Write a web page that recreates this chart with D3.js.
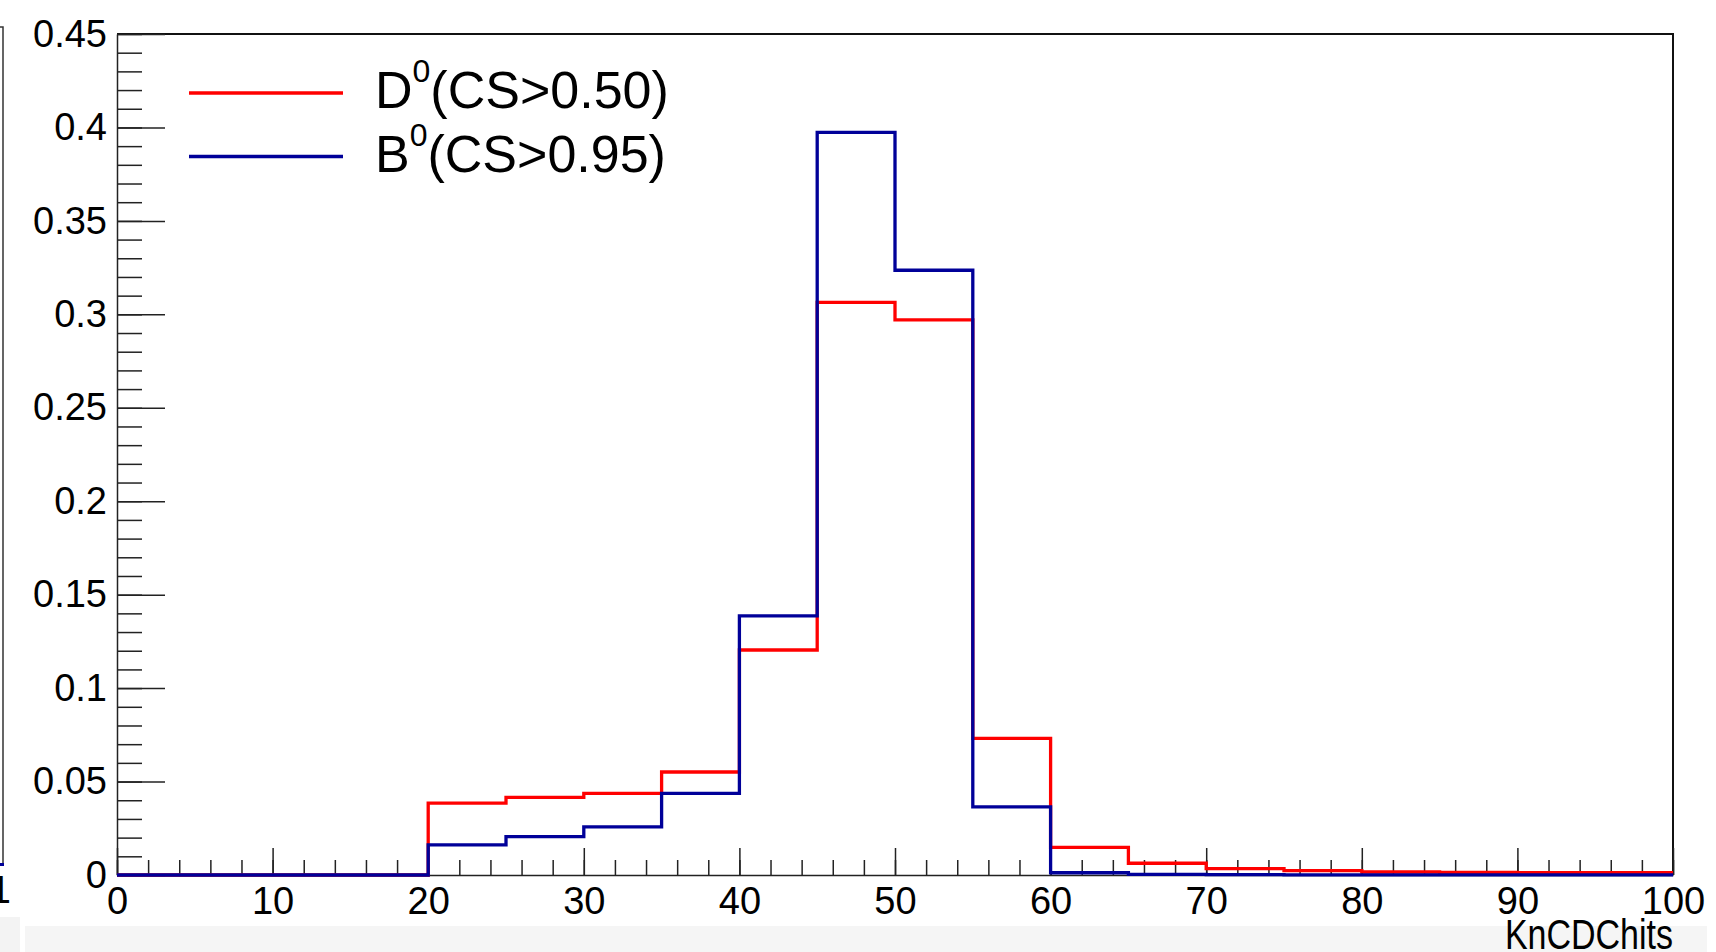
<!DOCTYPE html>
<html>
<head>
<meta charset="utf-8">
<script src="https://cdn.jsdelivr.net/npm/d3@7"></script>
<style>
  body { margin: 0; background: #fff; }
  svg { display: block; font-family: "Liberation Sans", Arial, sans-serif; }
</style>
</head>
<body>
<div id="chart"></div>
<script>
// bin edges of the histograms (5 hit wide bins from 0 to 100)
var binEdges = [0, 5, 10, 15, 20, 25, 30, 35, 40, 45, 50, 55, 60, 65, 70, 75, 80, 85, 90, 95, 100];
// D0 (CS>0.50), normalised
var d0Values = [0, 0, 0, 0, 0.0385, 0.0415, 0.0437, 0.0551, 0.1204, 0.3064, 0.2970, 0.0731,
                0.0148, 0.0063, 0.0034, 0.0023, 0.0016, 0.0014, 0.0013, 0.0012];
// B0 (CS>0.95), normalised
var b0Values = [0, 0, 0, 0, 0.0161, 0.0205, 0.0257, 0.0437, 0.1386, 0.3974, 0.3236, 0.0364,
                0.0012, 0.0003, 0.0002, 0.0001, 0.0001, 0.0001, 0.0001, 0.0001];
var xMajorTicks = [0, 10, 20, 30, 40, 50, 60, 70, 80, 90, 100];
var yMajorTicks = [0, 0.05, 0.1, 0.15, 0.2, 0.25, 0.3, 0.35, 0.4, 0.45];
var yTickLabels = ["0", "0.05", "0.1", "0.15", "0.2", "0.25", "0.3", "0.35", "0.4", "0.45"];
var legendNames = ["D", "B"];
var legendCuts = ["(CS>0.50)", "(CS>0.95)"];
var xTitle = "KnCDChits";

function Histo() {
  var w = 1716;
  var h = 952;
  var left = 117, right = 1673, top = 34, bottom = 875;

  var svg = d3.select("#chart").append("svg")
    .attr("width", w)
    .attr("height", h);

  svg.append("rect").attr("width", w).attr("height", h).attr("fill", "#fff");

  // grey strip at the bottom of the screenshot
  svg.append("rect").attr("x", 0).attr("y", 917).attr("width", 20).attr("height", 35).attr("fill", "#f3f3f3");
  svg.append("rect").attr("x", 25).attr("y", 926).attr("width", 1682).attr("height", 26).attr("fill", "#f5f5f5");

  // edge of the neighbouring pad on the left
  svg.append("path")
    .attr("d", "M0,27H3V865")
    .attr("fill", "none")
    .attr("stroke", "#333")
    .attr("stroke-width", 1.5);
  svg.append("rect").attr("x", 0).attr("y", 863).attr("width", 4).attr("height", 3).attr("fill", "#000099");
  svg.append("text").attr("x", 11).attr("y", 903).attr("text-anchor", "end")
    .attr("font-size", 38).text("1");

  var x = d3.scaleLinear().domain([0, 100]).range([left, right]);
  var y = d3.scaleLinear().domain([0, 0.45]).range([bottom, top]);

  // frame
  svg.append("path")
    .attr("d", "M" + left + "," + top + "H" + right + "V" + bottom)
    .attr("fill", "none")
    .attr("stroke", "#111")
    .attr("stroke-width", 2);

  // x axis: minor then major ticks
  svg.append("g")
    .attr("transform", "translate(0," + bottom + ")")
    .call(d3.axisBottom(x).tickValues(d3.range(0, 101, 2)).tickSize(-15).tickSizeOuter(0).tickFormat(""))
    .call(function (g) { g.select(".domain").remove(); });
  var xAxis = svg.append("g")
    .attr("transform", "translate(0," + bottom + ")")
    .call(d3.axisBottom(x).tickValues(xMajorTicks).tickSize(-27).tickSizeOuter(0).tickPadding(12));
  xAxis.selectAll("text").attr("font-size", 38).attr("font-family", "Liberation Sans, Arial, sans-serif").attr("fill", "#000");

  // y axis
  svg.append("g")
    .attr("transform", "translate(" + left + ",0)")
    .call(d3.axisLeft(y).tickValues(d3.range(0, 46).map(function (d) { return d / 100; })).tickSize(-25).tickSizeOuter(0).tickFormat(""))
    .call(function (g) { g.select(".domain").remove(); });
  var yAxis = svg.append("g")
    .attr("transform", "translate(" + left + ",0)")
    .call(d3.axisLeft(y).tickValues(yMajorTicks).tickSize(-48).tickSizeOuter(0).tickPadding(10)
      .tickFormat(function (d, i) { return yTickLabels[i]; }));
  yAxis.selectAll("text").attr("font-size", 38).attr("font-family", "Liberation Sans, Arial, sans-serif").attr("fill", "#000");

  svg.selectAll(".tick line").attr("stroke", "#222").attr("stroke-width", 1.5);
  svg.selectAll(".domain").attr("stroke", "#222").attr("stroke-width", 1.5);

  // x axis title
  svg.append("text")
    .attr("transform", "translate(" + right + ",949) scale(1,1.25)")
    .attr("text-anchor", "end")
    .attr("font-size", 34)
    .text(xTitle);

  // histograms as step lines
  var step = d3.line()
    .x(function (d) { return x(d[0]); })
    .y(function (d) { return y(d[1]); })
    .curve(d3.curveStepAfter);

  function points(vals) {
    var pts = vals.map(function (v, i) { return [binEdges[i], v]; });
    pts.push([binEdges[binEdges.length - 1], vals[vals.length - 1]]);
    return pts;
  }

  var series = [
    { vals: d0Values, color: "#ff0000" },
    { vals: b0Values, color: "#000099" }
  ];

  svg.selectAll("path.histo")
    .data(series)
    .enter()
    .append("path")
    .attr("class", "histo")
    .attr("d", function (d) { return step(points(d.vals)); })
    .attr("fill", "none")
    .attr("stroke", function (d) { return d.color; })
    .attr("stroke-width", 3.3);

  // legend
  var legend = svg.append("g");
  series.forEach(function (s, i) {
    var ly = 93 + i * 63.5;
    legend.append("line")
      .attr("x1", 189).attr("x2", 343)
      .attr("y1", ly).attr("y2", ly)
      .attr("stroke", s.color)
      .attr("stroke-width", 3.3);
    var t = legend.append("text")
      .attr("x", 375)
      .attr("y", ly + 15)
      .attr("font-size", 52);
    t.append("tspan").text(legendNames[i]);
    t.append("tspan").attr("font-size", 32).attr("dy", -26).text("0");
    t.append("tspan").attr("dy", 26).text(legendCuts[i]);
  });
}
window.onload = Histo;
</script>
</body>
</html>
